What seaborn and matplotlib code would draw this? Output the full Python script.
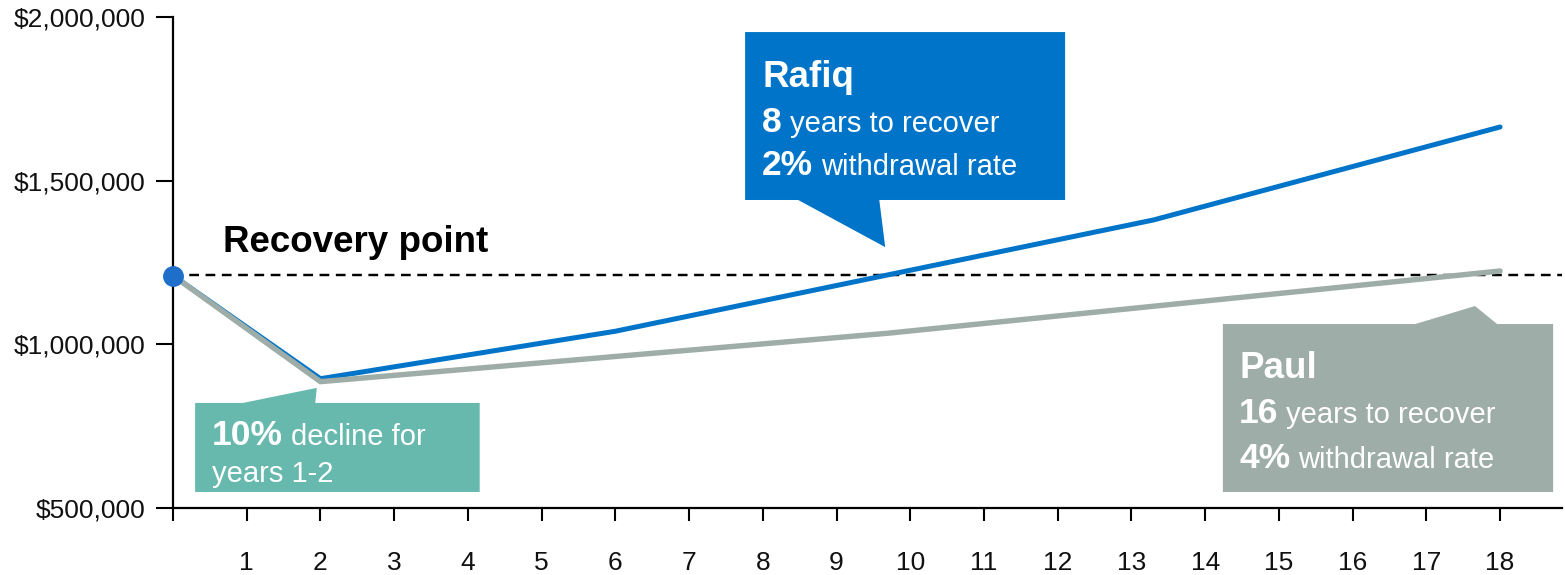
import matplotlib
matplotlib.use("Agg")
import matplotlib.pyplot as plt
from matplotlib.patches import Polygon
from matplotlib.transforms import offset_copy
import numpy as np
import pandas as pd
import seaborn as sns

# Portfolio value paths after a two-year 10% decline
rafiq_years = [0, 2, 6, 13.3, 18]
rafiq_values = [1210000, 895000, 1040000, 1380000, 1664000]
paul_years = [0, 2, 9.7, 18]
paul_values = [1210000, 886000, 1034000, 1224000]
recovery_level = 1212000

year_ticks = list(range(0, 19))
year_labels = [""] + [str(y) for y in range(1, 19)]
value_ticks = [500000, 1000000, 1500000, 2000000]
value_labels = ["$500,000", "$1,000,000", "$1,500,000", "$2,000,000"]

BLUE = "#0074C8"
GREY = "#9EADA8"
TEAL = "#67B9AE"

sns.set_theme(style="white")
plt.rcParams["font.family"] = ["Liberation Sans", "DejaVu Sans"]

df = pd.concat([
    pd.DataFrame({"year": rafiq_years, "value": rafiq_values, "investor": "Rafiq"}),
    pd.DataFrame({"year": paul_years, "value": paul_values, "investor": "Paul"}),
])

fig = plt.figure(figsize=(15.65, 5.75), dpi=100)
ax = fig.add_axes([173 / 1565, 67 / 575, (1562 - 173) / 1565, 491 / 575])

sns.lineplot(data=df[df.investor == "Rafiq"], x="year", y="value", color=BLUE,
             linewidth=3.6, ax=ax, zorder=3, legend=False)
sns.lineplot(data=df[df.investor == "Paul"], x="year", y="value", color=GREY,
             linewidth=3.9, ax=ax, zorder=4, legend=False)
ax.plot([rafiq_years[0]], [rafiq_values[0]], "o", color="#1E6FC9", markersize=14,
        zorder=6, clip_on=False)

ax.axhline(recovery_level, color="black", linestyle=(0, (4, 2.7)), linewidth=1.75, zorder=2)
ax.text(0.68, 1282000, "Recovery point", fontsize=26.5, fontweight="bold",
        color="black", va="baseline", ha="left")

ax.set_xlim(0, 18.84)
ax.set_ylim(500000, 2000000)
ax.set_xticks(year_ticks)
ax.set_xticklabels(year_labels)
ax.set_yticks(value_ticks)
ax.set_yticklabels(value_labels)
ax.set_xlabel("")
ax.set_ylabel("")

for side in ("top", "right"):
    ax.spines[side].set_visible(False)
for side in ("left", "bottom"):
    ax.spines[side].set_linewidth(1.6)
    ax.spines[side].set_color("black")
ax.tick_params(axis="y", direction="out", length=12.5, width=1.5, pad=7,
               labelsize=19, colors="black", left=True)
ax.tick_params(axis="x", direction="out", length=9, width=1.5, pad=22,
               labelsize=19, colors="black", bottom=True)
for lbl in ax.get_xticklabels() + ax.get_yticklabels():
    lbl.set_color("#111111")

# Callout shapes (box plus pointer), in data units
callouts = [
    (BLUE, [(7.76, 1954000), (12.10, 1954000), (12.10, 1441000), (9.58, 1441000),
            (9.66, 1297000), (8.48, 1441000), (7.76, 1441000)]),
    (GREY, [(14.24, 1062000), (16.85, 1062000), (17.66, 1117000), (17.96, 1062000),
            (18.72, 1062000), (18.72, 549000), (14.24, 549000)]),
    (TEAL, [(0.30, 821000), (0.95, 821000), (1.95, 867000), (1.93, 821000),
            (4.16, 821000), (4.16, 549000), (0.30, 549000)]),
]
for color, pts in callouts:
    ax.add_patch(Polygon(pts, closed=True, facecolor=color, edgecolor="none",
                         zorder=5, clip_on=False))

# Callout text: (x, baseline y, bold part, regular part, bold size)
callout_lines = [
    (7.99, 1786000, "Rafiq", "", 26.5),
    (7.99, 1649000, "8", "years to recover", 25.5),
    (7.99, 1517000, "2%", "withdrawal rate", 25.5),
    (14.46, 897000, "Paul", "", 26.5),
    (14.46, 760000, "16", "years to recover", 25.5),
    (14.46, 622000, "4%", "withdrawal rate", 25.5),
    (0.53, 692000, "10%", "decline for", 25.5),
    (0.53, 579000, "", "years 1-2", 25.5),
]

fig.canvas.draw()
renderer = fig.canvas.get_renderer()
for x, y, bold, regular, bsize in callout_lines:
    width = 0.0
    if bold:
        t = ax.text(x, y, bold, fontsize=bsize, fontweight="bold", color="white",
                    va="baseline", ha="left", zorder=7)
        width = t.get_window_extent(renderer).width + 8
    if regular:
        tr = offset_copy(ax.transData, fig=fig, x=width, y=0, units="dots")
        ax.text(x, y, regular, fontsize=21, color="white", va="baseline",
                ha="left", transform=tr, zorder=7)

fig.savefig("out.png", dpi=100)
